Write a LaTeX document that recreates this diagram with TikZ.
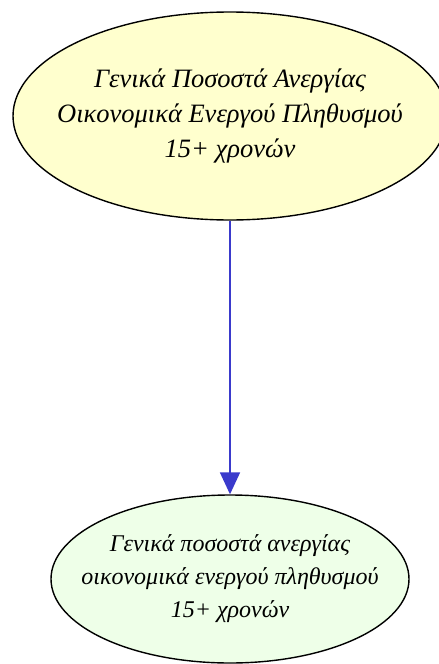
\documentclass[tikz,border=0pt]{standalone}
\usepackage{fontspec}
\setmainfont{Liberation Serif}
\usetikzlibrary{arrows.meta,positioning,shapes.geometric}
\definecolor{chartYellow}{RGB}{255,255,206}
\definecolor{chartGreen}{RGB}{238,255,232}
\definecolor{chartBlue}{RGB}{58,58,204}

\begin{document}
\begin{tikzpicture}[x=1pt,y=-1pt,
  topbubble/.style={ellipse,draw=black,line width=1.4pt,fill=chartYellow,
    minimum width=434pt,minimum height=208pt,inner xsep=-40pt,inner ysep=0pt,
    align=center,font=\fontsize{26.5}{35}\selectfont\itshape},
  subbubble/.style={ellipse,draw=black,line width=1.4pt,fill=chartGreen,
    minimum width=358pt,minimum height=168pt,inner xsep=-40pt,inner ysep=0pt,
    align=center,font=\fontsize{24}{33}\selectfont\itshape},
  flowarrow/.style={chartBlue,line width=1.8pt,-{Triangle[width=20pt,length=22pt]}}]
  \useasboundingbox (0,0) rectangle (439,664);
  \node[topbubble] (rates) at (230,116)
    {Γενικά Ποσοστά Ανεργίας\\Οικονομικά Ενεργού Πληθυσμού\\15+ χρονών};
  \node[subbubble] (ratesSub) at (230,579)
    {Γενικά ποσοστά ανεργίας\\οικονομικά ενεργού πληθυσμού\\15+ χρονών};
  \draw[flowarrow] (rates) -- (ratesSub);
\end{tikzpicture}
\end{document}
